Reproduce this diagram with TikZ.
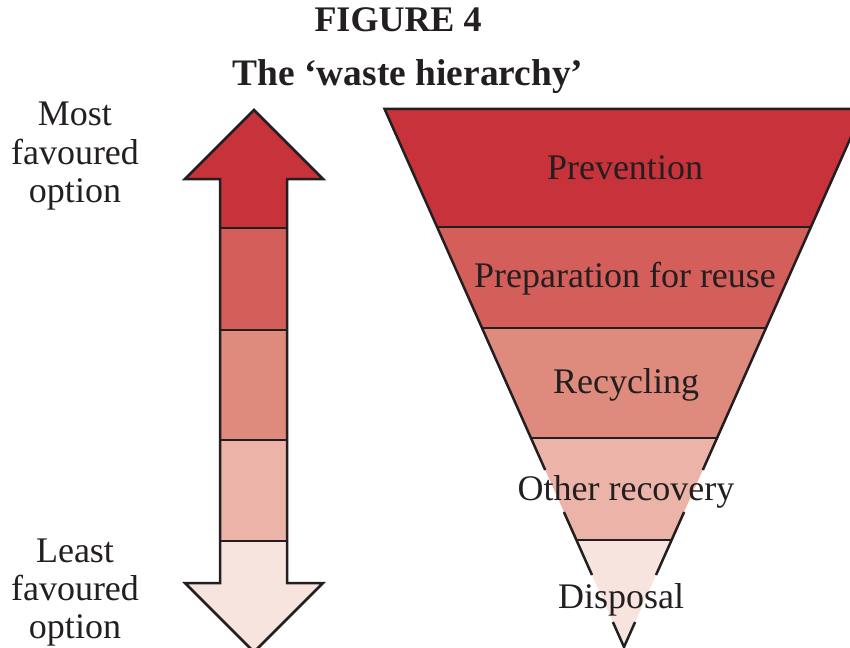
\documentclass[tikz,border=0pt]{standalone}
\usepackage{fontspec}
\setmainfont{Liberation Serif}
\usepackage{xcolor}
\definecolor{ink}{RGB}{35,31,32}
\definecolor{wasteA}{RGB}{200,50,59}
\definecolor{wasteB}{RGB}{212,94,90}
\definecolor{wasteC}{RGB}{222,138,124}
\definecolor{wasteD}{RGB}{236,180,168}
\definecolor{wasteE}{RGB}{247,228,222}

\begin{document}
\begin{tikzpicture}[x=0.5pt, y=-0.5pt, line width=1.25pt, draw=ink,
    tiertext/.style={anchor=base, text=ink, font=\fontsize{18}{19}\selectfont},
    headtext/.style={anchor=base, text=ink, font=\bfseries\fontsize{18}{19}\selectfont}]
    \clip (0,0) rectangle (850,647);

    % title
    \node[headtext] (figno) at (398,32) {FIGURE 4};
    \node[headtext, font=\bfseries\fontsize{18.7}{19}\selectfont] (title) at (408,86) {The ‘waste hierarchy’};

    % side texts
    \node[tiertext] (most1) at (75,126) {Most};
    \node[tiertext] (most2) at (75,164) {favoured};
    \node[tiertext] (most3) at (75,202) {option};
    \node[tiertext] (least1) at (75,562) {Least};
    \node[tiertext] (least2) at (75,600) {favoured};
    \node[tiertext] (least3) at (75,638) {option};

    % double arrow
    \coordinate (up) at (254,110);
    \coordinate (down) at (254,652);
    \begin{scope}
        \clip (up) -- (323,179) -- (287,179) -- (287,583) -- (323,583) -- (down)
            -- (185,583) -- (220,583) -- (220,179) -- (185,179) -- cycle;
        \fill[wasteA] (180,100) rectangle (330,228);
        \fill[wasteB] (180,228) rectangle (330,330);
        \fill[wasteC] (180,330) rectangle (330,440);
        \fill[wasteD] (180,440) rectangle (330,541);
        \fill[wasteE] (180,541) rectangle (330,660);
    \end{scope}
    \draw (220,228) -- (287,228)
          (220,330) -- (287,330)
          (220,440) -- (287,440)
          (220,541) -- (287,541);
    \draw (up) -- (323,179) -- (287,179) -- (287,583) -- (323,583) -- (down)
        -- (185,583) -- (220,583) -- (220,179) -- (185,179) -- cycle;

    % funnel
    \coordinate (tl) at (384.6,109);
    \coordinate (tr) at (863.4,109);
    \coordinate (tip) at (624,647);
    \begin{scope}
        \clip (tl) -- (tr) -- (tip) -- cycle;
        \fill[wasteA] (380,100) rectangle (870,227);
        \fill[wasteB] (380,227) rectangle (870,328);
        \fill[wasteC] (380,328) rectangle (870,438);
        \fill[wasteD] (380,438) rectangle (870,540);
        \fill[wasteE] (380,540) rectangle (870,660);
    \end{scope}
    \draw (437.1,227) -- (810.9,227)
          (482.1,328) -- (765.9,328)
          (531.0,438) -- (716.9,438)
          (576.4,540) -- (671.6,540);
    \draw (tr) -- (tl) -- (545.2,470);
    \draw (563.9,512) -- (592.0,575);
    \draw (612.9,622) -- (tip) -- (635.1,622);
    \draw (656.0,575) -- (684.1,512);
    \draw (702.8,470) -- (tr);

    \node[tiertext] (prevention) at (625,179) {Prevention};
    \node[tiertext] (reuse) at (625,287) {Preparation for reuse};
    \node[tiertext] (recycling) at (626,393) {Recycling};
    \node[tiertext] (recovery) at (626,500) {Other recovery};
    \node[tiertext] (disposal) at (621,608) {Disposal};
\end{tikzpicture}
\end{document}
